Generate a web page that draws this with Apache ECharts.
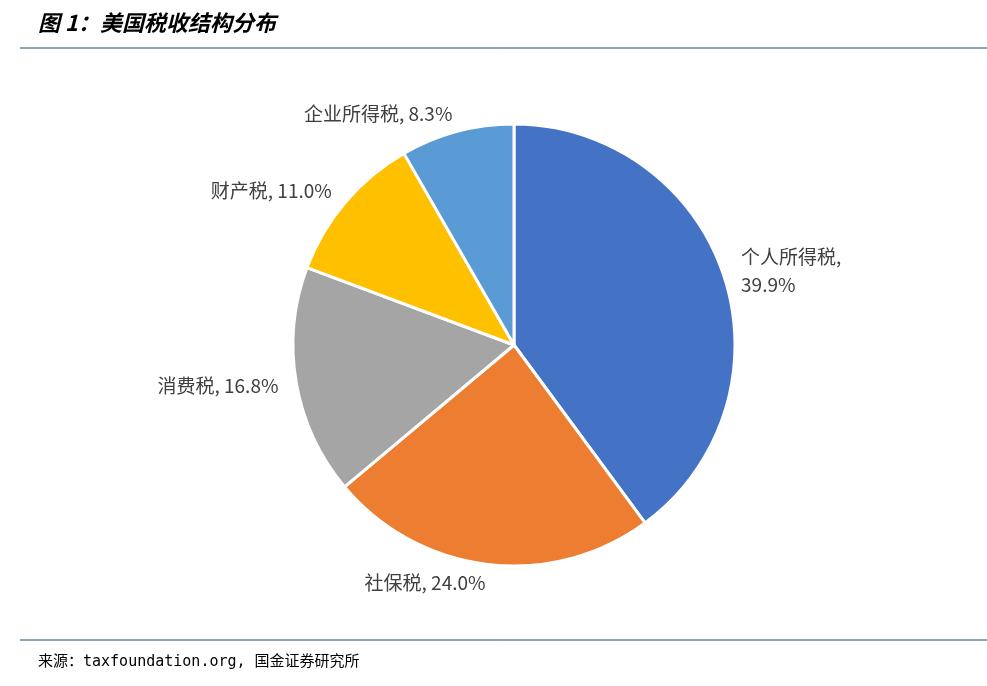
<!DOCTYPE html>
<html><head><meta charset="utf-8">
<script src="https://cdn.jsdelivr.net/npm/echarts@6/dist/echarts.min.js"></script>
<style>html,body{margin:0;padding:0;background:#fff}#main{width:987px;height:686px}</style>
</head><body><div id="main"></div>
<script>
// 税种及占比(%)
const categories = ['个人所得税', '社保税', '消费税', '财产税', '企业所得税'];
const shares = [39.9, 24.0, 16.8, 11.0, 8.3];
const colors = ['#4472C4', '#ED7D31', '#A5A5A5', '#FFC000', '#5B9BD5'];

const chart = echarts.init(document.getElementById('main'));
const data = categories.map((c, i) => ({
  name: c,
  value: shares[i],
  itemStyle: { color: colors[i] },
  label: { formatter: i === 0 ? '{b},\n{c}%' : '{b}, {c}%' }
}));
data.forEach(d => { d.label.formatter = d.label.formatter.replace('{c}', d.value.toFixed(1)); });

chart.setOption({
  animation: false,
  graphic: [
    { type: 'text', left: 38, top: 12, style: { text: '图 1：美国税收结构分布', font: 'italic bold 22px "Noto Sans CJK SC"', fill: '#000' } },
    { type: 'line', shape: { x1: 20, y1: 48, x2: 987, y2: 48 }, style: { stroke: '#1F4E6B', lineWidth: 1 } },
    { type: 'line', shape: { x1: 20, y1: 640, x2: 987, y2: 640 }, style: { stroke: '#1F4E6B', lineWidth: 1 } },
    { type: 'text', left: 38, top: 655, style: { text: '来源：taxfoundation.org, 国金证券研究所', font: '15px "DejaVu Sans Mono", "Noto Sans CJK SC"', fill: '#000' } }
  ],
  series: [{
    type: 'pie',
    center: [514, 345],
    radius: 221,
    startAngle: 90,
    clockwise: true,
    data: data,
    itemStyle: { borderColor: '#fff', borderWidth: 3 },
    label: { show: true, position: 'outside', color: '#404040', fontSize: 19, lineHeight: 28, fontFamily: 'Liberation Sans Narrow, Noto Sans CJK SC', distanceToLabelLine: 0 },
    labelLine: { show: false, length: 18, length2: 0 }
  }]
});
</script></body></html>
